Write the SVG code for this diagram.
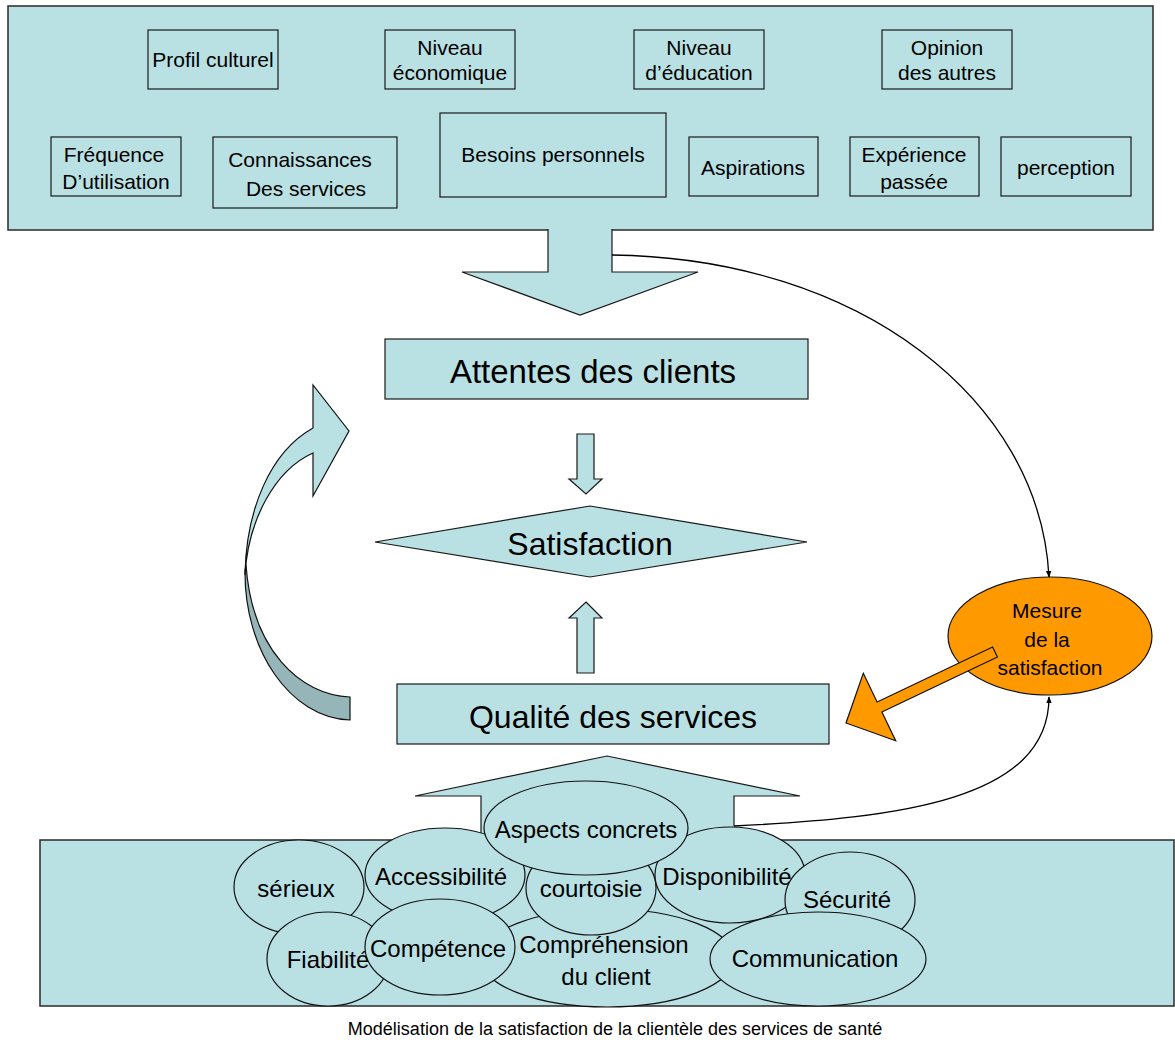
<svg xmlns="http://www.w3.org/2000/svg" width="1175" height="1040" viewBox="0 0 1175 1040">
<defs>
<style>
.bx{fill:#b9e0e3;stroke:#1a1a1a;stroke-width:1.2}
.pn{fill:#b9e0e3;stroke:#2a2a2a;stroke-width:1.5}
.nf{fill:#b9e0e3;stroke:none}
.ol{fill:none;stroke:#1a1a1a;stroke-width:1.2;stroke-linejoin:miter}
.el{fill:#b9e0e3;stroke:#111;stroke-width:1.2}
.t{font-family:"Liberation Sans",Arial,sans-serif;fill:#000;text-anchor:middle}
.s21{font-size:21px}
.s24{font-size:24px}
.s32{font-size:32px}
.con{fill:none;stroke:#000;stroke-width:1.3}
</style>
<marker id="ah" viewBox="0 0 10 10" refX="9" refY="5" markerWidth="7" markerHeight="7" orient="auto" markerUnits="userSpaceOnUse">
<path d="M0,1 L10,5 L0,9 Z" fill="#000"/>
</marker>
</defs>

<g id="panel-top">
<rect class="pn" x="8" y="6" width="1145" height="224"/>
</g>
<g id="n-profil"><rect class="bx" x="148" y="30" width="130" height="59"/><text class="t s21" x="213" y="67">Profil culturel</text></g>
<g id="n-niveau-eco"><rect class="bx" x="385" y="30" width="130" height="59"/><text class="t s21" x="450" y="55">Niveau</text><text class="t s21" x="450" y="80">économique</text></g>
<g id="n-niveau-edu"><rect class="bx" x="634" y="30" width="130" height="59"/><text class="t s21" x="699" y="55">Niveau</text><text class="t s21" x="699" y="80">d’éducation</text></g>
<g id="n-opinion"><rect class="bx" x="882" y="30" width="130" height="59"/><text class="t s21" x="947" y="55">Opinion</text><text class="t s21" x="947" y="80">des autres</text></g>
<g id="n-frequence"><rect class="bx" x="51" y="137" width="130" height="59"/><text class="t s21" x="114" y="162">Fréquence</text><text class="t s21" x="116" y="189">D’utilisation</text></g>
<g id="n-connaissances"><rect class="bx" x="213" y="137" width="184" height="71"/><text class="t s21" x="300" y="167">Connaissances</text><text class="t s21" x="306" y="196">Des services</text></g>
<g id="n-besoins"><rect class="bx" x="440" y="113" width="226" height="84"/><text class="t s21" x="553" y="162">Besoins personnels</text></g>
<g id="n-aspirations"><rect class="bx" x="689" y="137" width="129" height="59"/><text class="t s21" x="753" y="175">Aspirations</text></g>
<g id="n-experience"><rect class="bx" x="850" y="137" width="129" height="59"/><text class="t s21" x="914" y="162">Expérience</text><text class="t s21" x="914" y="189">passée</text></g>
<g id="n-perception"><rect class="bx" x="1001" y="137" width="130" height="59"/><text class="t s21" x="1066" y="175">perception</text></g>

<g id="arrow-down-big">
<polygon class="nf" points="548,228 612,228 612,272 698,272 580,315 462,272 548,272"/>
<path class="ol" d="M548,229 L548,272 L462,272 L580,315 L698,272 L612,272 L612,229"/>
</g>

<g id="n-attentes"><rect class="bx" x="385" y="339" width="423" height="60"/><text class="t s32" x="593" y="383" style="font-size:33px">Attentes des clients</text></g>

<g id="arrow-down-small"><polygon class="bx" points="577,434 594,434 594,479 602,479 586,494 569,479 577,479"/></g>

<g id="n-satisfaction"><polygon class="bx" points="375,542 590,506 807,542 590,577"/><text class="t s32" x="590" y="555">Satisfaction</text></g>

<g id="arrow-up-small"><polygon class="bx" points="586,602 602,618 594,618 594,673 577,673 577,618 569,618"/></g>

<g id="n-qualite"><rect class="bx" x="397" y="684" width="432" height="60"/><text class="t s32" x="613" y="728">Qualité des services</text></g>

<g id="arrow-curved">
<path d="M245,570 C244,650 290,718 350,720 L350,697 C300,695 252,650 246,565 Z" fill="#96b5b8" stroke="#111" stroke-width="1.2"/>
<path d="M313,453 L313,496 L349,431 L313,385 L313,428 C270,452 246,510 245,575 C248,520 275,470 313,453 Z" fill="#b9e0e3" stroke="#111" stroke-width="1.2" stroke-linejoin="miter"/>
</g>

<g id="panel-bottom"><rect class="pn" x="40" y="840" width="1134" height="166"/></g>

<g id="arrow-up-big">
<polygon class="nf" points="481,841 481,796 415,796 607,756 800,796 734,796 734,841"/>
<path class="ol" d="M481,841 L481,796 L415,796 L607,756 L800,796 L734,796 L734,826"/>
</g>

<g id="n-comprehension"><ellipse class="el" cx="607" cy="958" rx="127" ry="49"/><text class="t s24" x="604" y="953">Compréhension</text><text class="t s24" x="606" y="985">du client</text></g>
<g id="n-serieux"><ellipse class="el" cx="299" cy="887" rx="65" ry="47"/><text class="t s24" x="296" y="897">sérieux</text></g>
<g id="n-fiabilite"><ellipse class="el" cx="328" cy="959" rx="61" ry="47"/><text class="t s24" x="328" y="968">Fiabilité</text></g>
<g id="n-accessibilite"><ellipse class="el" cx="445" cy="875" rx="80" ry="47"/><text class="t s24" x="441" y="885">Accessibilité</text></g>
<g id="n-competence"><ellipse class="el" cx="440" cy="947" rx="75" ry="48"/><text class="t s24" x="438" y="957">Compétence</text></g>
<g id="n-courtoisie"><ellipse class="el" cx="591" cy="888" rx="65" ry="47"/><text class="t s24" x="591" y="897">courtoisie</text></g>
<g id="n-disponibilite"><ellipse class="el" cx="730" cy="875" rx="75" ry="48"/><text class="t s24" x="727" y="885">Disponibilité</text></g>
<g id="n-aspects"><ellipse class="el" cx="586" cy="828" rx="102" ry="47"/><text class="t s24" x="586" y="838">Aspects concrets</text></g>
<g id="n-securite"><ellipse class="el" cx="850" cy="900" rx="65" ry="48"/><text class="t s24" x="847" y="908">Sécurité</text></g>
<g id="n-communication"><ellipse class="el" cx="818" cy="959" rx="108" ry="47"/><text class="t s24" x="815" y="967">Communication</text></g>

<g id="n-mesure">
<ellipse cx="1050" cy="636" rx="102" ry="59" fill="#ff9900" stroke="#111" stroke-width="1.2"/>
<text class="t s21" x="1047" y="618">Mesure</text>
<text class="t s21" x="1047" y="647">de la</text>
<text class="t s21" x="1050" y="675">satisfaction</text>
</g>
<g id="arrow-orange">
<polygon points="992.6,647 877.1,702 863.3,673.2 846,723 895.7,740.8 881.9,712 997.4,657" fill="#ff9900" stroke="#111" stroke-width="1.2" stroke-linejoin="miter"/>
</g>

<g id="connectors">
<path class="con" d="M612,255 C860,258 1040,400 1049,577" marker-end="url(#ah)"/>
<path class="con" d="M734,826 C900,818 1049,800 1049,697" marker-end="url(#ah)"/>
</g>

<g id="caption"><text class="t" x="615" y="1035" style="font-size:18px">Modélisation de la satisfaction de la clientèle des services de santé</text></g>
</svg>
